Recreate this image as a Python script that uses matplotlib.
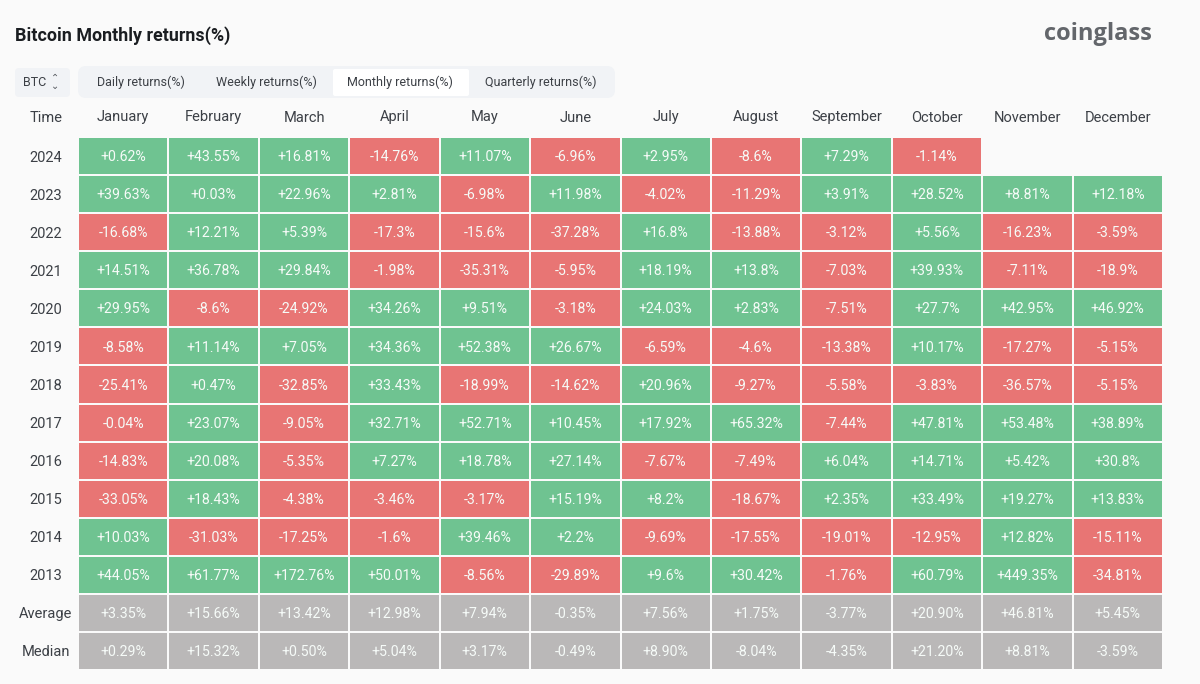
import numpy as np
import matplotlib
matplotlib.use("Agg")
import matplotlib.pyplot as plt
from matplotlib.colors import ListedColormap
from matplotlib.patches import FancyBboxPatch

plt.rcParams['font.family'] = ['Roboto', 'DejaVu Sans']

months = ["January", "February", "March", "April", "May", "June", "July",
          "August", "September", "October", "November", "December"]
row_labels = ["2024", "2023", "2022", "2021", "2020", "2019", "2018", "2017",
              "2016", "2015", "2014", "2013", "Average", "Median"]
y2024 = ["+0.62%", "+43.55%", "+16.81%", "-14.76%", "+11.07%", "-6.96%", "+2.95%", "-8.6%", "+7.29%", "-1.14%", "", ""]
y2023 = ["+39.63%", "+0.03%", "+22.96%", "+2.81%", "-6.98%", "+11.98%", "-4.02%", "-11.29%", "+3.91%", "+28.52%", "+8.81%", "+12.18%"]
y2022 = ["-16.68%", "+12.21%", "+5.39%", "-17.3%", "-15.6%", "-37.28%", "+16.8%", "-13.88%", "-3.12%", "+5.56%", "-16.23%", "-3.59%"]
y2021 = ["+14.51%", "+36.78%", "+29.84%", "-1.98%", "-35.31%", "-5.95%", "+18.19%", "+13.8%", "-7.03%", "+39.93%", "-7.11%", "-18.9%"]
y2020 = ["+29.95%", "-8.6%", "-24.92%", "+34.26%", "+9.51%", "-3.18%", "+24.03%", "+2.83%", "-7.51%", "+27.7%", "+42.95%", "+46.92%"]
y2019 = ["-8.58%", "+11.14%", "+7.05%", "+34.36%", "+52.38%", "+26.67%", "-6.59%", "-4.6%", "-13.38%", "+10.17%", "-17.27%", "-5.15%"]
y2018 = ["-25.41%", "+0.47%", "-32.85%", "+33.43%", "-18.99%", "-14.62%", "+20.96%", "-9.27%", "-5.58%", "-3.83%", "-36.57%", "-5.15%"]
y2017 = ["-0.04%", "+23.07%", "-9.05%", "+32.71%", "+52.71%", "+10.45%", "+17.92%", "+65.32%", "-7.44%", "+47.81%", "+53.48%", "+38.89%"]
y2016 = ["-14.83%", "+20.08%", "-5.35%", "+7.27%", "+18.78%", "+27.14%", "-7.67%", "-7.49%", "+6.04%", "+14.71%", "+5.42%", "+30.8%"]
y2015 = ["-33.05%", "+18.43%", "-4.38%", "-3.46%", "-3.17%", "+15.19%", "+8.2%", "-18.67%", "+2.35%", "+33.49%", "+19.27%", "+13.83%"]
y2014 = ["+10.03%", "-31.03%", "-17.25%", "-1.6%", "+39.46%", "+2.2%", "-9.69%", "-17.55%", "-19.01%", "-12.95%", "+12.82%", "-15.11%"]
y2013 = ["+44.05%", "+61.77%", "+172.76%", "+50.01%", "-8.56%", "-29.89%", "+9.6%", "+30.42%", "-1.76%", "+60.79%", "+449.35%", "-34.81%"]
average = ["+3.35%", "+15.66%", "+13.42%", "+12.98%", "+7.94%", "-0.35%", "+7.56%", "+1.75%", "-3.77%", "+20.90%", "+46.81%", "+5.45%"]
median = ["+0.29%", "+15.32%", "+0.50%", "+5.04%", "+3.17%", "-0.49%", "+8.90%", "-8.04%", "-4.35%", "+21.20%", "+8.81%", "-3.59%"]
rows = [y2024, y2023, y2022, y2021, y2020, y2019, y2018, y2017, y2016, y2015, y2014, y2013, average, median]
tabs = ["Daily returns(%)", "Weekly returns(%)", "Monthly returns(%)", "Quarterly returns(%)"]

BG = "#fafafa"
GREEN, RED, GREY = "#6fc391", "#e87574", "#bab8b8"
W, H = 1200, 684

fig = plt.figure(figsize=(W / 100, H / 100), dpi=100, facecolor=BG)

# overlay in pixel coordinates for the page chrome
ui = fig.add_axes([0, 0, 1, 1], zorder=0)
ui.set_xlim(0, W)
ui.set_ylim(H, 0)
ui.axis("off")

def box(x0, y0, x1, y1, color, r=4):
    ui.add_patch(FancyBboxPatch((x0 + r, y0 + r), x1 - x0 - 2 * r, y1 - y0 - 2 * r,
                                boxstyle=f"round,pad={r},rounding_size={r}",
                                fc=color, ec="none"))

ui.text(15, 36, "Bitcoin Monthly returns(%)", fontsize=12.9, fontweight="bold",
        color="#1a1d21", va="center", ha="left")
ui.text(1097.5, 34, "coinglass", fontsize=17, fontweight="bold", color="#63666b",
        va="center", ha="center", family=["Open Sans", "DejaVu Sans"])
box(15, 68, 70, 97, "#f1f3f6")
ui.text(23, 82, "BTC", fontsize=9, color="#3c4046", va="center", ha="left")
ui.text(55.5, 78, "\u2303", fontsize=7, color="#55595f", va="center", ha="center",
        family=["DejaVu Sans"])
ui.text(55.5, 86, "\u2304", fontsize=7, color="#55595f", va="center", ha="center",
        family=["DejaVu Sans"])
box(78, 66, 615, 98, "#f1f3f6", r=8)
box(333, 69, 469, 96, "#ffffff", r=2)
for label, cx in zip(tabs, [141, 266, 400, 541]):
    ui.text(cx, 82, label, fontsize=9, color="#3c4046", va="center", ha="center")

# heatmap
ax = fig.add_axes([78 / W, 1 - 670 / H, (1163 - 78) / W, (670 - 137) / H], zorder=1)
ax.patch.set_alpha(0)
codes = np.full((len(rows), len(months)), np.nan)
for i, row in enumerate(rows):
    for j, s in enumerate(row):
        if not s:
            continue
        codes[i, j] = 2 if i >= 12 else (1 if s.startswith("+") else 0)
cmap = ListedColormap([RED, GREEN, GREY])
cmap.set_bad((0, 0, 0, 0))
ax.pcolormesh(np.ma.masked_invalid(codes), cmap=cmap, vmin=0, vmax=2,
              edgecolors=BG, linewidth=1.2)
ax.set_ylim(len(rows), 0)
ax.set_xlim(0, len(months))
for i, row in enumerate(rows):
    for j, s in enumerate(row):
        ax.text(j + 0.5, i + 0.53, s, color="#f6fbf8", fontsize=10.2,
                ha="center", va="center")
ax.set_xticks(np.arange(len(months)) + 0.5, months)
ax.set_yticks(np.arange(len(rows)) + 0.5, row_labels)
ax.xaxis.tick_top()
ax.tick_params(length=0, labelsize=10.5, labelcolor="#3c4046")
ax.tick_params(axis="x", pad=9)
ax.tick_params(axis="y", pad=0)
for lab in ax.get_yticklabels():
    lab.set_ha("center")
    lab.set_x(-32 / 1085)
for s in ax.spines.values():
    s.set_visible(False)
# "Time" header sits above the row labels
ax.text(-0.354, -0.5, "Time", fontsize=10.5, color="#3c4046", ha="center", va="center")

fig.savefig("out.png", dpi=100, facecolor=BG)
